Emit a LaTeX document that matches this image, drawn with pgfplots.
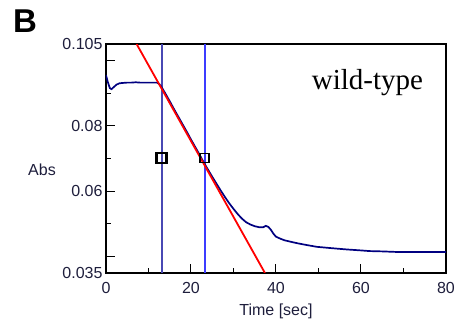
\documentclass[border=0pt]{standalone}
\usepackage{pgfplots}
\pgfplotsset{compat=1.18}
\usepackage{fontspec}
\setmainfont{Liberation Sans}
\newfontfamily\serifx{Liberation Serif}
\definecolor{navy}{RGB}{0,0,128}
\definecolor{cursorA}{RGB}{72,72,180}
\definecolor{cursorB}{RGB}{60,60,255}
\definecolor{ticktext}{RGB}{30,30,60}
\begin{document}
\begin{tikzpicture}[x=1pt,y=1pt]
\useasboundingbox (0,0) rectangle (466,331);
\begin{axis}[
  at={(106pt,58pt)}, anchor=south west,
  scale only axis, width=340pt, height=229pt,
  xmin=0, xmax=80, ymin=0.035, ymax=0.105,
  axis line style={line width=1.3pt},
  xtick={0,20,40,60,80},
  minor xtick={10,30,50,70},
  ytick={0.035,0.04,0.06,0.08,0.1,0.105},
  yticklabels={0.035,,0.06,0.08,,0.105},
  minor ytick={0.05,0.07,0.09},
  xtick pos=bottom, ytick pos=left,
  tick align=inside,
  major tick length=9pt, minor tick length=5pt,
  every tick/.style={black, line width=1pt},
  scaled y ticks=false,
  /pgf/number format/assume math mode=true,
  /pgf/number format/fixed,
  /pgf/number format/precision=3,
  tick label style={font=\fontsize{16}{16}\selectfont, text=ticktext},
  xticklabel style={yshift=-6pt},
  xlabel={Time [sec]},
  ylabel={Abs},
  every axis x label/.style={at={(axis description cs:0.5,0)}, anchor=center, yshift=-38pt, font=\fontsize{16}{16}\selectfont, text=ticktext},
  every axis y label/.style={at={(axis description cs:0,0.45)}, anchor=center, xshift=-64pt, font=\fontsize{16}{16}\selectfont, text=ticktext},
  clip=true,
]
% vertical cursor lines
\addplot[draw=cursorB, line width=1.5pt, mark=none] coordinates {(23.3,0.035) (23.3,0.105)};
\addplot[draw=cursorA, line width=1.8pt, mark=none] coordinates {(13.2,0.035) (13.2,0.105)};
% measured curve
\addplot[navy, line width=1.7pt] coordinates {
(0,0.0955) (0.4,0.0935) (0.9,0.0915) (1.3,0.0912) (1.8,0.0918) (2.5,0.0926)
(3.2,0.0930) (4,0.0931) (5,0.0932) (6,0.0932) (7,0.0933) (8,0.0932) (9,0.0932)
(10,0.0932) (11,0.0932) (12,0.0932) (12.5,0.0928) (13,0.0920) (14,0.0898)
(15,0.0875) (16,0.0851) (17,0.0828) (18,0.0805) (19,0.0782) (20,0.0758)
(21,0.0735) (22,0.0712) (23,0.0688) (24,0.0666) (25,0.0644) (26,0.0623)
(27,0.0602) (28,0.0582) (29,0.0563) (30,0.0546) (31,0.0530) (32,0.0516)
(33,0.0505) (34,0.0498) (35,0.0493) (36,0.0490) (37,0.0490) (37.6,0.0494)
(38.2,0.0491) (38.8,0.0482) (39.4,0.0470) (40,0.0461) (41,0.0455) (42,0.0450)
(43.3,0.0446) (45,0.0441) (47,0.0436) (49.6,0.0430) (53,0.0426) (56.6,0.0422)
(60,0.0419) (62,0.0417) (65,0.0416) (69,0.0414) (75,0.0414) (80,0.0414)};
% fitted tangent line
\addplot[red, line width=1.8pt] coordinates {(7.2,0.105) (37.4,0.035)};
% cursor markers
\addplot[only marks, mark=square, mark size=5pt, mark options={black, line width=2.4pt}] coordinates {(13.1,0.0702)};
\addplot[only marks, mark=square, mark size=4.5pt, mark options={black, line width=1.2pt}] coordinates {(23.2,0.0702)};
\end{axis}
\node[anchor=base, font=\serifx\fontsize{29}{29}\selectfont] at (367.5,241) {wild-type};
\node[anchor=base, font=\bfseries\fontsize{33}{33}\selectfont] at (25,298) {B};
\end{tikzpicture}
\end{document}
